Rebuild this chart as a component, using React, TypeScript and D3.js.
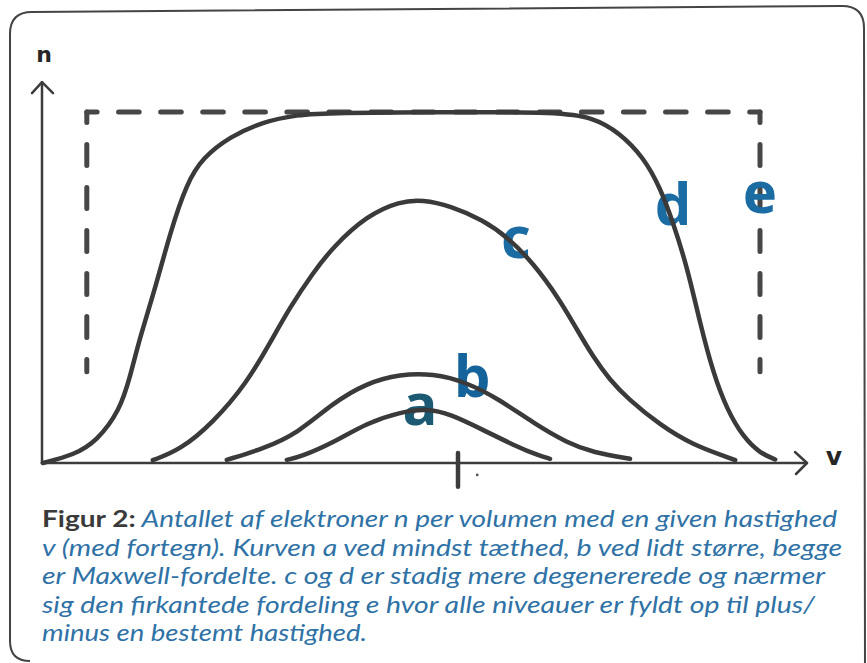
import React from "react";
import * as d3 from "d3";

// Velocity (v, tick at 0) and density n (e-box height = 10)
const curveA: [number, number][] = [
  [-4.28, 0.09], [-3.95, 0.17], [-3.13, 0.57], [-2.28, 1.14], [-1.45, 1.45],
  [-0.78, 1.55], [-0.2, 1.4], [0.63, 0.94], [1.48, 0.46], [2.0, 0.22], [2.3, 0.12],
];
const curveB: [number, number][] = [
  [-5.78, 0.09], [-4.88, 0.4], [-4.0, 0.85], [-3.13, 1.71], [-2.28, 2.28],
  [-1.45, 2.53], [-0.63, 2.55], [0.22, 2.3], [1.05, 1.8], [1.88, 1.14],
  [2.73, 0.57], [3.38, 0.3], [4.3, 0.12],
];
const curveC: [number, number][] = [
  [-7.63, 0.08], [-6.95, 0.37], [-6.13, 1.14], [-5.28, 2.28], [-4.7, 3.42],
  [-4.2, 4.44], [-3.63, 5.41], [-3.13, 6.15], [-2.28, 7.05], [-1.45, 7.46],
  [-0.88, 7.5], [-0.2, 7.33], [0.63, 6.92], [1.23, 6.44], [1.88, 5.7],
  [2.55, 4.64], [2.98, 3.79], [3.38, 3.02], [3.8, 2.36], [4.23, 1.85],
  [5.05, 1.08], [5.88, 0.51], [6.73, 0.17], [6.93, 0.08],
];
const curveD: [number, number][] = [
  [-10.38, 0.0], [-9.6, 0.23], [-9.03, 0.62], [-8.45, 1.51], [-8.2, 2.45], [-7.95, 3.59],
  [-7.53, 5.13], [-7.2, 6.55], [-6.78, 7.98], [-6.38, 8.7], [-5.7, 9.3],
  [-4.88, 9.72], [-4.03, 9.92], [-3.2, 9.98], [0, 10.0], [2.48, 9.99],
  [3.38, 9.85], [4.05, 9.4], [4.63, 8.72], [5.05, 7.86], [5.38, 6.84],
  [5.73, 5.58], [6.05, 3.99], [6.38, 2.56], [6.73, 1.51], [7.13, 0.74],
  [7.55, 0.28], [7.93, 0.1],
];
// square distribution e: v range and n range
const boxV = [-9.28, 7.55];
const boxN = [2.6, 10];

const curveLabels = ["a", "b", "c", "d", "e"];
const labelV = [-0.95, 0.35, 1.45, 5.38, 7.55];
const labelN = [1.08, 1.88, 5.83, 6.78, 7.12];
const labelColors = ["#1b5a72", "#14639a", "#1a6ca3", "#1a6ca3", "#1a6ca3"];

const axisV = [-10.4, 8.725];
const axisN = [0, 10.85];
const tickV = 0;

const captionBold = "Figur 2:";
const captionLines = [
  " Antallet af elektroner n per volumen med en given hastighed",
  "v (med fortegn). Kurven a ved mindst tæthed, b ved lidt større, begge",
  "er Maxwell-fordelte. c og d er stadig mere degenererede og nærmer",
  "sig den firkantede fordeling e hvor alle niveauer er fyldt op til plus/",
  "minus en bestemt hastighed.",
];
const captionWidths = [795, 800, 783, 773, 325];

const W = 867;
const H = 663;

export default function App() {
  const x = d3.scaleLinear().domain([-10.4, 8.725]).range([42, 807]);
  const y = d3.scaleLinear().domain([0, 10]).range([463, 112]);
  const line = d3
    .line<[number, number]>()
    .x((d) => x(d[0]))
    .y((d) => y(d[1]))
    .curve(d3.curveBasis);

  const curves = [curveA, curveB, curveC, curveD];
  const ink = "#3a3a3a";

  // dashed segment helper: dash centered on start corner, period fitted to length
  const dashSeg = (x1: number, y1: number, x2: number, y2: number, key: string, fitEnd: boolean) => {
    const L = Math.hypot(x2 - x1, y2 - y1);
    const period = fitEnd ? L / Math.max(1, Math.round(L / 43)) : 43;
    const dash = period * 0.49;
    return (
      <line
        key={key}
        x1={x1}
        y1={y1}
        x2={x2}
        y2={y2}
        stroke="#474747"
        strokeWidth={5}
        strokeLinecap="round"
        strokeDasharray={`${dash} ${period - dash}`}
        strokeDashoffset={dash / 2}
      />
    );
  };

  const bx0 = x(boxV[0]);
  const bx1 = x(boxV[1]);
  const byT = y(boxN[1]);
  const byB = y(boxN[0]);

  const x0 = x(axisV[0]);
  const xEnd = x(axisV[1]);
  const y0 = y(axisN[0]);
  const yTop = y(axisN[1]);

  const lineH = 28.5;
  const capY = 527;

  return (
    <svg
      width={W}
      height={H}
      style={{ position: "absolute", left: 0, top: 0, background: "#fff" }}
      viewBox={`0 0 ${W} ${H}`}
    >
      <rect width={W} height={H} fill="#fff" />
      {/* frame */}
      <path
        d={`M30,661 Q10,661 10,641 L10,34 Q10,12 32,12 L842,6 Q864,6 864,28 L865,${H + 5}`}
        fill="none"
        stroke="#444"
        strokeWidth={2}
      />

      {/* e: dashed square distribution */}
      {dashSeg(bx0, byT, bx0, byB, "eL", false)}
      {dashSeg(bx0, byT, bx1, byT, "eT", true)}
      {dashSeg(bx1, byT, bx1, byB, "eR", false)}

      {/* axes */}
      <g stroke="#3c3c3c" strokeWidth={2.5} fill="none" strokeLinecap="round" strokeLinejoin="round">
        <line x1={x0} y1={y0} x2={xEnd} y2={y0} />
        <path d={`M${xEnd - 12},${y0 - 11} L${xEnd},${y0} L${xEnd - 11},${y0 + 11}`} />
        <line x1={x0} y1={y0} x2={x0} y2={yTop} />
        <path d={`M${x0 - 10},${yTop + 11} L${x0},${yTop} L${x0 + 11},${yTop + 11}`} />
      </g>
      <line
        x1={x(tickV)}
        y1={y(0.285)}
        x2={x(tickV)}
        y2={y(-0.68)}
        stroke="#3c3c3c"
        strokeWidth={4.5}
        strokeLinecap="round"
      />
      <circle cx={x(0.48)} cy={y(-0.34)} r={1.4} fill="#555" />
      <text x={x0 + 2} y={62} fontFamily="DejaVu Sans" fontWeight="bold" fontSize={22} fill="#262626" textAnchor="middle">
        n
      </text>
      <text x={834} y={465} fontFamily="DejaVu Sans" fontWeight="bold" fontSize={25} fill="#262626" textAnchor="middle">
        v
      </text>

      {/* curve labels */}
      {curveLabels.map((t, i) => (
        <text
          key={t}
          x={x(labelV[i])}
          y={y(labelN[i])}
          fontFamily="Open Sans"
          fontWeight={700}
          fontSize={58}
          fill={labelColors[i]}
          textAnchor="middle"
        >
          {t}
        </text>
      ))}

      {/* curves */}
      {curves.map((c, i) => (
        <path
          key={i}
          d={line(c) || ""}
          fill="none"
          stroke={ink}
          strokeWidth={4.5}
          strokeLinecap="round"
          strokeLinejoin="round"
        />
      ))}

      {/* caption */}
      {captionLines.map((t, i) => (
        <text
          key={i}
          x={42}
          y={capY + i * lineH}
          fontFamily="Lato"
          fontSize={23}
          textLength={captionWidths[i]}
          lengthAdjust="spacingAndGlyphs"
        >
          {i === 0 && (
            <tspan fontWeight={700} fontStyle="normal" fill="#3a3a3a">
              {captionBold}
            </tspan>
          )}
          <tspan fontStyle="italic" fill="#2f72a6">
            {t}
          </tspan>
        </text>
      ))}
    </svg>
  );
}
